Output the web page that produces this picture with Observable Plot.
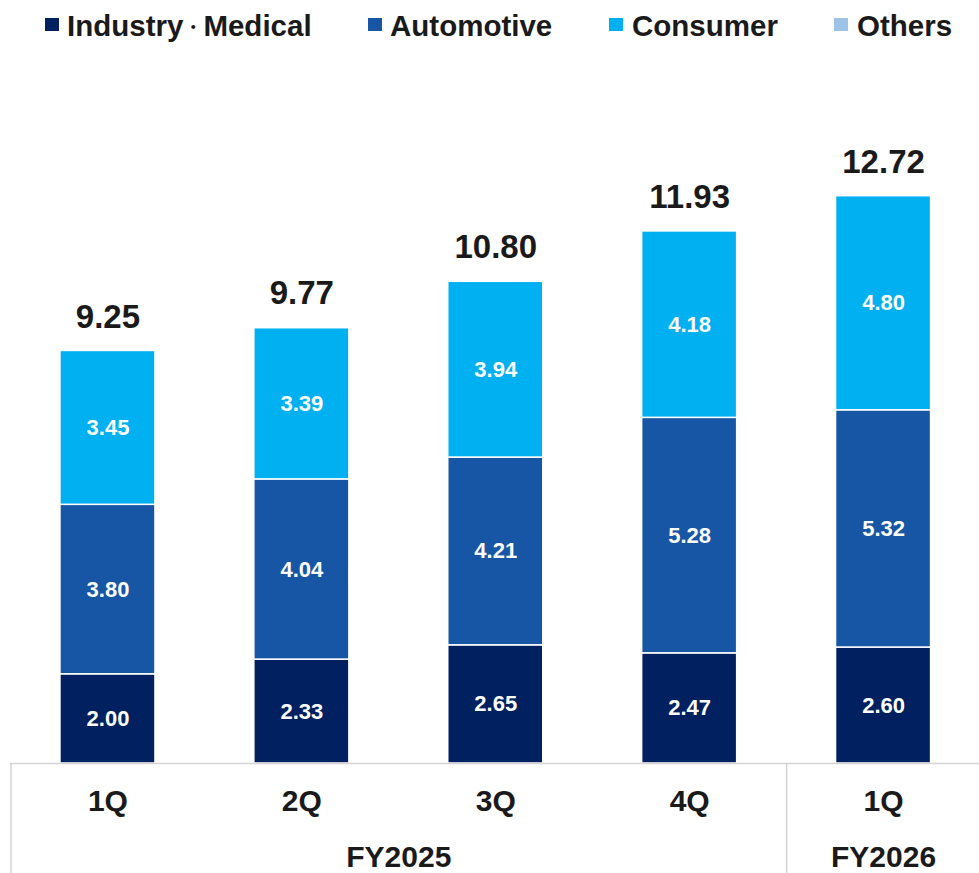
<!DOCTYPE html>
<html>
<head>
<meta charset="utf-8">
<script src="https://cdn.jsdelivr.net/npm/d3@7"></script>
<script src="https://cdn.jsdelivr.net/npm/@observablehq/plot@0.6"></script>
<style>
  body { margin: 0; background: #fff; font-family: "Liberation Sans", Arial, sans-serif; }
  #wrap { width: 979px; position: relative; }
  #legend { position: relative; width: 979px; height: 50px; }
  .sw { position: absolute; top: 18px; width: 14px; height: 13px; }
  .lt { position: absolute; top: 11px; line-height: 1; font-size: 29.5px; font-weight: bold; color: #1a1a1a; white-space: nowrap; }
  .dot { font-size: 20px; vertical-align: 2px; }
</style>
</head>
<body>
<div id="wrap">
  <div id="legend"></div>
  <div id="chart"></div>
</div>
<script>
// ---- data ----
const quarters = ["1Q", "2Q", "3Q", "4Q", "1Q"];
const fiscalYears = ["FY2025", "FY2025", "FY2025", "FY2025", "FY2026"];
const segments = ["Industry・Medical", "Automotive", "Consumer", "Others"];
const segmentColors = ["#002060", "#1755A5", "#00B0F0", "#9DC3E6"];
const industryMedical = [2.00, 2.33, 2.65, 2.47, 2.60];
const automotive = [3.80, 4.04, 4.21, 5.28, 5.32];
const consumer = [3.45, 3.39, 3.94, 4.18, 4.80];
const others = [0, 0, 0, 0, 0];
const totals = [9.25, 9.77, 10.80, 11.93, 12.72];

// legend layout (left offsets of swatch / text)
const legendPos = [[45, 67], [368, 390], [609, 632], [834, 857]];

const legend = document.getElementById("legend");
segments.forEach((s, k) => {
  const sw = document.createElement("div");
  sw.className = "sw";
  sw.style.left = legendPos[k][0] + "px";
  sw.style.background = segmentColors[k];
  const t = document.createElement("div");
  t.className = "lt";
  t.style.left = legendPos[k][1] + "px";
  // keep the full-width middle dot, set a little smaller so it takes less room
  s.split(/(・)/).forEach(part => {
    if (part === "・") {
      const sp = document.createElement("span");
      sp.className = "dot";
      sp.textContent = part;
      t.appendChild(sp);
    } else if (part) {
      t.appendChild(document.createTextNode(part));
    }
  });
  legend.appendChild(sw);
  legend.appendChild(t);
});

const series = [industryMedical, automotive, consumer, others];
const rows = [];
quarters.forEach((q, i) => {
  segments.forEach((s, k) => rows.push({i, segment: s, value: series[k][i]}));
});
const totalRows = totals.map((t, i) => ({i, total: t}));
const qRows = quarters.map((q, i) => ({i, q}));
const groupNames = Array.from(new Set(fiscalYears));
const groups = groupNames.map(g => {
  const idx = fiscalYears.map((f, i) => f === g ? i : -1).filter(i => i >= 0);
  return {name: g, start: idx[0], center: d3.mean(idx)};
});

const half = 0.245;
const lineColor = "#d4d4d4";

const chart = Plot.plot({
  width: 979,
  height: 823,
  marginLeft: 10,
  marginRight: 0,
  marginTop: 88.6,
  marginBottom: 110,
  style: {fontFamily: '"Liberation Sans", Arial, sans-serif', background: "#fff", overflow: "visible"},
  x: {type: "linear", domain: [-0.5, 4.5], range: [10.5, 980], axis: null},
  y: {domain: [0, 14], axis: null},
  color: {domain: segments, range: segmentColors},
  marks: [
    Plot.rectY(rows, Plot.stackY({
      x1: d => d.i - half, x2: d => d.i + half,
      y: "value", z: "segment", fill: "segment", order: segments,
      stroke: "#fff", strokeWidth: 1.5
    })),
    Plot.text(rows.filter(d => d.value > 0), Plot.stackY({
      x: "i", y: "value", z: "segment", order: segments,
      text: d => d.value.toFixed(2),
      fill: "#fff", fontSize: 22, fontWeight: "bold"
    })),
    Plot.text(totalRows, {
      x: "i", y: "total", text: d => d.total.toFixed(2),
      dy: -34, fontSize: 33, fontWeight: "bold", fill: "#1a1a1a"
    }),
    Plot.ruleY([0], {stroke: lineColor, strokeWidth: 1.5}),
    Plot.ruleX(groups, {x: d => d.start - 0.5, y1: 0, y2: 0, insetBottom: -120, stroke: lineColor, strokeWidth: 1.5}),
    Plot.text(qRows, {x: "i", y: () => 0, text: "q", dy: 38, fontSize: 30, fontWeight: "bold", fill: "#1a1a1a"}),
    Plot.text(groups, {x: "center", y: () => 0, text: "name", dy: 94, fontSize: 30, fontWeight: "bold", fill: "#1a1a1a"})
  ]
});
document.getElementById("chart").appendChild(chart);
</script>
</body>
</html>
